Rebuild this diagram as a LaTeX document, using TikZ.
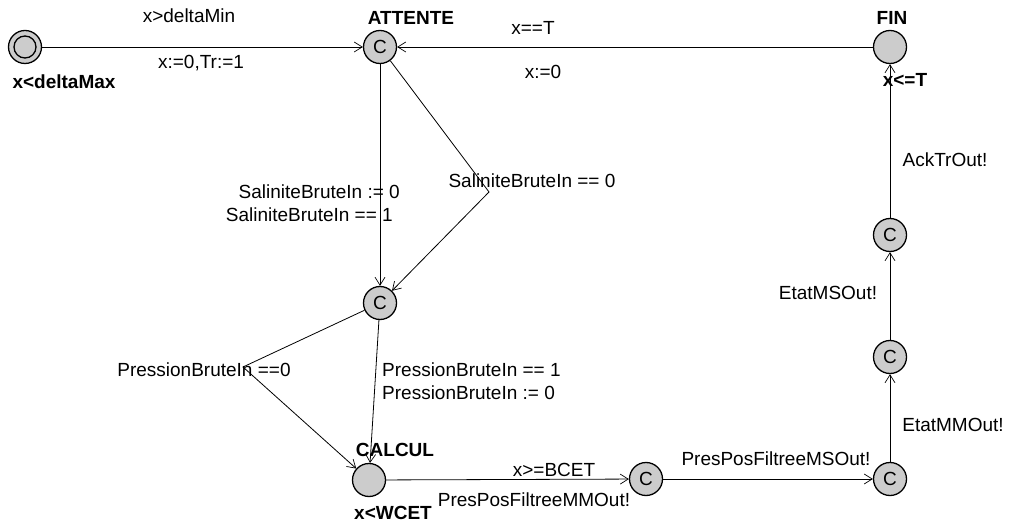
\documentclass[tikz,border=0pt]{standalone}
\usepackage{fontspec}
\setmainfont{Liberation Sans}
\usetikzlibrary{arrows.meta}
\definecolor{locfill}{gray}{0.8}
\tikzset{
  loc/.style={circle, draw=black, line width=1.3pt, fill=locfill, minimum size=33pt, inner sep=0pt, font=\fontsize{19}{22}\selectfont},
  edge/.style={draw=black, line width=0.8pt, -{Straight Barb[length=8pt,width=10pt,line width=0.7pt]}},
  lbl/.style={inner sep=0pt, text height=13.6pt, text depth=0pt, font=\fontsize{19}{22}\selectfont},
  blbl/.style={lbl, font=\fontsize{19}{22}\selectfont\bfseries}
}
\begin{document}
\begin{tikzpicture}[x=1pt, y=-1pt]
\useasboundingbox (0,0) rectangle (1011,526);
% locations
\node[loc] (init) at (25,47) {};
\node[circle, draw=black, line width=1.3pt, minimum size=22pt, inner sep=0pt] (initin) at (init.center) {};
\node[loc] (att) at (380,47) {C};
\node[loc] (fin) at (890,47) {};
\node[loc] (mid) at (380,303) {C};
\node[loc] (calc) at (369,480) {};
\node[loc] (n1) at (646,479) {C};
\node[loc] (n2) at (890,479) {C};
\node[loc] (n3) at (890,357) {C};
\node[loc] (n4) at (890,235) {C};
% location names and invariants
\node[blbl] (attname) at (411,18) {ATTENTE};
\node[blbl] (finname) at (892,18) {FIN};
\node[blbl] (fininv) at (905,80) {x<=T};
\node[blbl] (initinv) at (64,82) {x<deltaMax};
\node[blbl] (calcname) at (395,450) {CALCUL};
\node[blbl] (calcinv) at (393,513) {x<WCET};
% bend points
\coordinate (b1) at (489,192);
\coordinate (b2) at (243,367);
% edges
\draw[edge] (init) -- (att);
\draw[edge] (fin) -- (att);
\draw[edge] (att) -- (mid);
\draw[edge] (att) -- (b1) -- (mid);
\draw[edge] (mid) -- (b2) -- (calc);
\draw[edge] (mid) -- (calc);
\draw[edge] (calc) -- (n1);
\draw[edge] (n1) -- (n2);
\draw[edge] (n2) -- (n3);
\draw[edge] (n3) -- (n4);
\draw[edge] (n4) -- (fin);
% edge labels
\node[lbl] (e1a) at (189,16) {x>deltaMin};
\node[lbl] (e1b) at (201,62) {x:=0,Tr:=1};
\node[lbl] (e2a) at (533,28) {x==T};
\node[lbl] (e2b) at (543,72) {x:=0};
\node[lbl, anchor=east] (e3a) at (400,192) {SaliniteBruteIn := 0};
\node[lbl, anchor=east] (e3b) at (393,215) {SaliniteBruteIn == 1};
\node[lbl] (e4) at (532,181) {SaliniteBruteIn == 0};
\node[lbl] (e5) at (204,370) {PressionBruteIn ==0};
\node[lbl, anchor=west] (e6a) at (382,370) {PressionBruteIn == 1};
\node[lbl, anchor=west] (e6b) at (382,393) {PressionBruteIn := 0};
\node[lbl] (e7a) at (554,470) {x>=BCET};
\node[lbl] (e7b) at (534,500) {PresPosFiltreeMMOut!};
\node[lbl] (e8) at (776,459) {PresPosFiltreeMSOut!};
\node[lbl] (e9) at (953,425) {EtatMMOut!};
\node[lbl] (e10) at (828,293) {EtatMSOut!};
\node[lbl] (e11) at (945,160) {AckTrOut!};
\end{tikzpicture}
\end{document}
